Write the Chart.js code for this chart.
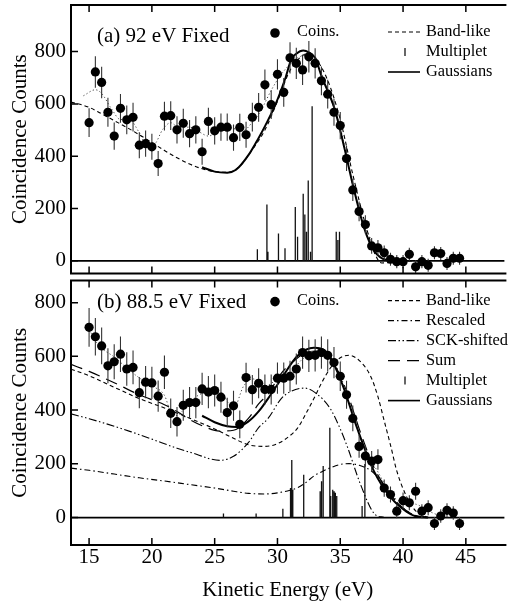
<!DOCTYPE html>
<html>
<head>
<meta charset="utf-8">
<script src="https://cdn.jsdelivr.net/npm/chart.js@4.4.0/dist/chart.umd.min.js"></script>
<style>
  html, body { margin: 0; padding: 0; background: #fff; overflow: hidden; }
  #wrapA { position: absolute; left: 0; top: 0; width: 509px; height: 278px; }
  #wrapB { position: absolute; left: 0; top: 276px; width: 509px; height: 325px; }
</style>
</head>
<body>
<div id="wrapA"><canvas id="chartA"></canvas></div>
<div id="wrapB"><canvas id="chartB"></canvas></div>
<script>
// kinetic energy of the coincidence points (eV)
const coinsE = [15, 15.5, 16, 16.5, 17, 17.5, 18, 18.5, 19, 19.5,
                20, 20.5, 21, 21.5, 22, 22.5, 23, 23.5, 24, 24.5,
                25, 25.5, 26, 26.5, 27, 27.5, 28, 28.5, 29, 29.5,
                30, 30.5, 31, 31.5, 32, 32.5, 33, 33.5, 34, 34.5,
                35, 35.5, 36, 36.5, 37, 37.5, 38, 38.5, 39, 39.5,
                40, 40.5, 41, 41.5, 42, 42.5, 43, 43.5, 44, 44.5];

// (a) 92 eV fixed
const coinsA = [528, 722, 682, 568, 477, 583, 539, 549, 442, 448,
                436, 372, 553, 555, 501, 526, 486, 501, 417, 533,
                497, 511, 511, 471, 510, 482, 549, 587, 673, 597,
                713, 644, 776, 755, 730, 780, 755, 688, 637, 568,
                517, 391, 271, 189, 139, 57, 50, 31, 6, -3,
                -3, 25, -23, -3, -17, 31, 28, -10, 10, 10];
const errA = [55, 60, 60, 55, 52, 55, 55, 55, 50, 50,
              50, 48, 55, 55, 52, 55, 52, 52, 50, 52,
              52, 52, 52, 50, 52, 50, 55, 55, 58, 55,
              58, 55, 60, 60, 58, 60, 58, 55, 55, 52,
              52, 48, 42, 38, 35, 30, 30, 28, 25, 25,
              25, 25, 25, 25, 25, 25, 25, 25, 25, 25];
const bandAE = [13.56, 15, 16, 17, 18, 19, 20, 21, 22, 23, 24, 25, 26, 27, 28, 29, 30, 31, 32, 32.4, 33, 34, 35, 36, 37, 37.8, 38.3, 39, 40, 41];
const bandAY = [607, 587, 562, 536, 510, 482, 452, 422, 394, 370, 352, 341, 338, 362, 425, 500, 610, 728, 785, 792, 775, 690, 540, 330, 140, 22, -8, -6, 0, 0];
const gaussAE = [24, 25, 26, 26.7, 27.7, 28.5, 29.03, 29.8, 30.6, 31.1, 31.5, 32.05, 32.5, 33, 33.5, 34.55, 35.34, 36.13, 36.9, 37.7, 38.8, 40];
const gaussAY = [358, 341, 337, 348, 405, 470, 517, 593, 694, 770, 792, 804, 797, 776, 707, 581, 429, 265, 126, 38, 2, 0];
const dotAE = [14.55, 15.5, 16, 16.8, 17.5, 18.2, 19, 19.6, 20.1, 20.9, 21.5, 22.1, 23, 23.8, 24.5, 25.4, 26.5, 27.3, 28, 28.6, 29.55, 30.3, 31.6, 32.3, 33, 34, 35, 36, 37, 38, 39];
const dotAY = [631, 654, 640, 580, 540, 540, 490, 442, 442, 505, 528, 511, 511, 492, 477, 499, 505, 499, 530, 568, 656, 713, 776, 785, 765, 650, 510, 290, 130, 40, 5];
const multAE = [28.4, 29.16, 29.24, 30.08, 30.6, 31.42, 31.6, 32.05, 32.18, 32.31, 32.45, 32.63, 32.76, 34.68, 34.81, 34.94];
const multAH = [44, 215, 35, 105, 48, 206, 92, 256, 177, 111, 307, 35, 591, 111, 80, 111];

// (b) 88.5 eV fixed
const coinsB = [708, 673, 639, 565, 580, 608, 553, 559, 465, 504,
                501, 452, 541, 388, 357, 418, 428, 428, 479, 467,
                473, 448, 391, 416, 347, 521, 476, 500, 477, 477,
                519, 519, 526, 553, 614, 602, 604, 614, 604, 577,
                526, 457, 369, 265, 229, 210, 216, 110, 86, 24,
                63, 55, 98, 24, 37, -22, 6, 27, 17, -22];
const errB = [72, 70, 68, 65, 65, 66, 62, 63, 58, 60,
              60, 58, 62, 55, 55, 58, 58, 58, 60, 60,
              60, 58, 55, 56, 52, 55, 55, 56, 56, 56,
              58, 58, 58, 58, 60, 60, 60, 60, 60, 58,
              55, 52, 48, 42, 40, 38, 38, 32, 30, 26,
              30, 28, 32, 26, 28, 24, 25, 26, 25, 24];
const bandBE = [13.56, 15, 17, 19, 21, 23, 25, 26.5, 27.7, 29, 30, 31, 31.6, 32.3, 32.9, 33.5, 34.25, 35, 35.7, 36.5, 37.4, 38, 38.45, 39, 39.5, 40.3, 41, 42];
const bandBY = [552, 528, 485, 443, 408, 370, 330, 295, 271, 265, 275, 305, 333, 390, 443, 500, 559, 595, 604, 585, 528, 450, 369, 270, 174, 76, 25, 0];
const rescBY = [184, 176, 162, 148, 136, 123, 110, 98, 90, 88, 92, 102, 111, 132, 155, 170, 186, 198, 201, 195, 176, 150, 123, 90, 58, 25, 8, 0];
const sckBE = [13.56, 15, 17, 18.3, 20, 22, 23.6, 24.5, 25.4, 26.5, 27.7, 28.5, 29.25, 30.3, 31, 32.15, 33, 34.2, 35, 35.6, 36.6, 37.7, 38.5];
const sckBY = [386, 368, 340, 320, 292, 258, 235, 220, 213, 228, 280, 335, 369, 443, 468, 482, 465, 406, 330, 259, 125, 15, 0];
const sumBE = [13.56, 15, 17, 19, 21, 22, 23, 24, 25.4, 26.5, 27.7, 28.5, 29.25, 30.3, 31, 32.15, 33, 34.2, 35, 35.6, 36.6, 37.7, 38.5, 39.5, 40.3, 41, 42];
const sumBY = [570, 544, 502, 457, 420, 395, 365, 342, 322, 325, 370, 423, 460, 537, 570, 612, 620, 592, 528, 458, 318, 185, 120, 58, 25, 8, 0];
const gaussBE = [24, 25, 26, 26.75, 27.67, 28.5, 29.25, 30.3, 31.6, 32.9, 33.97, 34.6, 35.3, 36.35, 37.67, 39, 40.3, 41, 42];
const gaussBY = [379, 355, 340, 337, 357, 395, 443, 516, 602, 632, 614, 560, 479, 332, 174, 76, 21, 5, 0];
const dotBE = [15, 15.6, 16, 17, 18.1, 19, 20, 21, 21.5, 22, 22.5, 23.07, 24, 25.4, 26.5, 27.3, 28.07, 29, 30, 31, 32, 33, 34, 35, 36, 37, 38, 39, 40, 41, 42, 43];
const dotBY = [700, 651, 630, 598, 553, 520, 490, 455, 394, 380, 400, 430, 462, 467, 406, 489, 516, 490, 515, 540, 590, 615, 605, 530, 380, 250, 170, 90, 55, 50, 25, 5];
const multBE = [25.7, 28.3, 30.43, 31.04, 31.14, 31.22, 32.09, 33.4, 33.51, 33.64, 34.17, 34.24, 34.4, 34.51, 34.61, 34.72, 36.74, 36.96];
const multBH = [15, 15, 33, 110, 214, 104, 159, 98, 135, 192, 334, 80, 104, 98, 92, 80, 43, 199];

const xTickValues = [15, 20, 25, 30, 35, 40, 45];
const yTickValues = [0, 200, 400, 600, 800];

const SERIF = "'Liberation Serif', 'Times New Roman', serif";
Chart.defaults.font.family = SERIF;
Chart.defaults.color = '#000';

const pts = (xs, ys) => xs.map((x, i) => ({ x: x, y: ys[i] }));

function errorBars(xs, ys, es) {
  const out = [];
  xs.forEach((x, i) => {
    out.push({ x: x, y: ys[i] - es[i] }, { x: x, y: ys[i] + es[i] }, { x: x, y: null });
  });
  return out;
}

function sticks(xs, hs) {
  const out = [];
  xs.forEach((x, i) => {
    out.push({ x: x, y: 0 }, { x: x, y: hs[i] }, { x: x, y: null });
  });
  return out;
}

const DASH = {
  band: [4, 3],
  resc: [6, 3, 1.5, 3],
  sck: [8, 2.5, 1.5, 2.5, 1.5, 2.5],
  sum: [12, 7],
  dot: [1.2, 2.4]
};

function curve(data, dash, width, color) {
  return {
    data: data, borderColor: color || '#000', borderWidth: width || 1.1, borderDash: dash || [],
    pointRadius: 0, cubicInterpolationMode: 'monotone', fill: false
  };
}

function coinsSet(xs, ys) {
  return { data: pts(xs, ys), showLine: false, pointRadius: 4.6, pointStyle: 'circle',
           backgroundColor: '#000', borderWidth: 0, pointHoverRadius: 4.6 };
}

function barsSet(data, color, width) {
  return { data: data, borderColor: color, borderWidth: width, pointRadius: 0, spanGaps: false, fill: false };
}

// frame, inward ticks, zero line, title and legend
function panelPlugin(cfg) {
  return {
    id: 'panel' + cfg.key,
    beforeDatasetsDraw(chart) {
      const { ctx, chartArea: a, scales: { y } } = chart;
      const y0 = y.getPixelForValue(0);
      ctx.save();
      ctx.strokeStyle = '#000';
      ctx.lineWidth = 1.6;
      ctx.beginPath();
      ctx.moveTo(a.left, y0);
      ctx.lineTo(a.right, y0);
      ctx.stroke();
      ctx.restore();
    },
    afterDraw(chart) {
      const { ctx, chartArea: a, scales: { x, y } } = chart;
      ctx.save();
      ctx.strokeStyle = '#000';
      ctx.lineWidth = 2;
      ctx.beginPath();
      ctx.moveTo(a.right + 2, a.top);
      ctx.lineTo(a.left, a.top);
      ctx.lineTo(a.left, a.bottom);
      ctx.lineTo(a.right + 2, a.bottom);
      ctx.stroke();

      ctx.lineWidth = 1.5;
      ctx.beginPath();
      xTickValues.forEach(v => {
        const px = x.getPixelForValue(v);
        ctx.moveTo(px, a.bottom); ctx.lineTo(px, a.bottom - 7);
        ctx.moveTo(px, a.top); ctx.lineTo(px, a.top + 7);
      });
      yTickValues.forEach(v => {
        const py = y.getPixelForValue(v);
        ctx.moveTo(a.left, py); ctx.lineTo(a.left + 7, py);
      });
      ctx.stroke();

      ctx.fillStyle = '#000';
      ctx.textBaseline = 'middle';
      ctx.textAlign = 'left';
      ctx.font = '21px ' + SERIF;
      ctx.fillText(cfg.title, 97, a.top + cfg.titleY);

      // legend
      const ly = a.top + cfg.legendY;
      ctx.beginPath();
      ctx.arc(275, ly + 1, 4.8, 0, Math.PI * 2);
      ctx.fill();
      ctx.font = '16.4px ' + SERIF;
      ctx.fillText('Coins.', 297, ly);
      cfg.legend.forEach((item, i) => {
        const yy = ly + i * 20;
        ctx.save();
        ctx.lineWidth = item.width;
        ctx.setLineDash(item.dash);
        ctx.beginPath();
        if (item.stick) {
          ctx.moveTo(405, yy - 4); ctx.lineTo(405, yy + 4);
        } else {
          ctx.moveTo(388, yy); ctx.lineTo(420, yy);
        }
        ctx.stroke();
        ctx.restore();
        ctx.fillText(item.label, 426, yy);
      });
      ctx.restore();
    }
  };
}

function yAxis(min, max) {
  return {
    min: min, max: max,
    grid: { display: false, drawTicks: false },
    border: { display: false },
    afterBuildTicks: s => { s.ticks = yTickValues.map(v => ({ value: v })); },
    afterFit: s => { s.width = 71; s.paddingTop = 0; s.paddingBottom = 0; },
    ticks: { font: { size: 21 }, color: '#000', padding: 5 },
    title: { display: true, text: 'Coincidence Counts', font: { size: 21 }, color: '#000', padding: { top: 8, bottom: 0 } }
  };
}

const common = {
  responsive: true,
  maintainAspectRatio: false,
  animation: false,
  events: [],
  plugins: { legend: { display: false }, tooltip: { enabled: false } }
};

new Chart(document.getElementById('chartA'), {
  type: 'line',
  data: {
    datasets: [
      coinsSet(coinsE, coinsA),
      barsSet(errorBars(coinsE, coinsA, errA), '#333', 1.1),
      curve(pts(gaussAE, gaussAY), [], 2),
      curve(pts(bandAE, bandAY), DASH.band, 1.1),
      curve(pts(dotAE, dotAY), DASH.dot, 1, '#444'),
      barsSet(sticks(multAE, multAH), '#111', 1.3)
    ]
  },
  options: Object.assign({}, common, {
    layout: { padding: { top: 5, bottom: 2, left: 0, right: 0 } },
    scales: {
      x: { type: 'linear', min: 13.56, max: 48.07, display: false },
      y: yAxis(-48, 978)
    }
  }),
  plugins: [panelPlugin({
    key: 'A', title: '(a) 92 eV Fixed', titleY: 31, legendY: 27,
    legend: [
      { label: 'Band-like', dash: DASH.band, width: 1.1 },
      { label: 'Multiplet', dash: [], width: 1.2, stick: true },
      { label: 'Gaussians', dash: [], width: 1.6 }
    ]
  })]
});

new Chart(document.getElementById('chartB'), {
  type: 'line',
  data: {
    datasets: [
      coinsSet(coinsE, coinsB),
      barsSet(errorBars(coinsE, coinsB, errB), '#333', 1.1),
      curve(pts(gaussBE, gaussBY), [], 2),
      curve(pts(sumBE, sumBY), DASH.sum, 1.2),
      curve(pts(bandBE, bandBY), DASH.band, 1.1),
      curve(pts(bandBE, rescBY), DASH.resc, 1.1),
      curve(pts(sckBE, sckBY), DASH.sck, 1.1),
      curve(pts(dotBE, dotBY), DASH.dot, 1, '#444'),
      barsSet(sticks(multBE, multBH), '#111', 1.3)
    ]
  },
  options: Object.assign({}, common, {
    layout: { padding: { top: 1, bottom: 0, left: 0, right: 0 } },
    scales: {
      x: {
        type: 'linear', min: 13.56, max: 48.07,
        grid: { display: false, drawTicks: false },
        border: { display: false },
        afterBuildTicks: s => { s.ticks = xTickValues.map(v => ({ value: v })); },
        afterFit: s => { s.height = 56; s.paddingLeft = 0; s.paddingRight = 0; },
        ticks: { font: { size: 21 }, color: '#000', padding: 0, maxRotation: 0 },
        title: { display: true, text: 'Kinetic Energy (eV)', font: { size: 21 }, color: '#000', padding: { top: 4, bottom: -2 } }
      },
      y: yAxis(-102, 882)
    }
  }),
  plugins: [panelPlugin({
    key: 'B', title: '(b) 88.5 eV Fixed', titleY: 22, legendY: 20,
    legend: [
      { label: 'Band-like', dash: DASH.band, width: 1.1 },
      { label: 'Rescaled', dash: DASH.resc, width: 1.1 },
      { label: 'SCK-shifted', dash: DASH.sck, width: 1.1 },
      { label: 'Sum', dash: DASH.sum, width: 1.2 },
      { label: 'Multiplet', dash: [], width: 1.2, stick: true },
      { label: 'Gaussians', dash: [], width: 1.6 }
    ]
  })]
});
</script>
</body>
</html>
